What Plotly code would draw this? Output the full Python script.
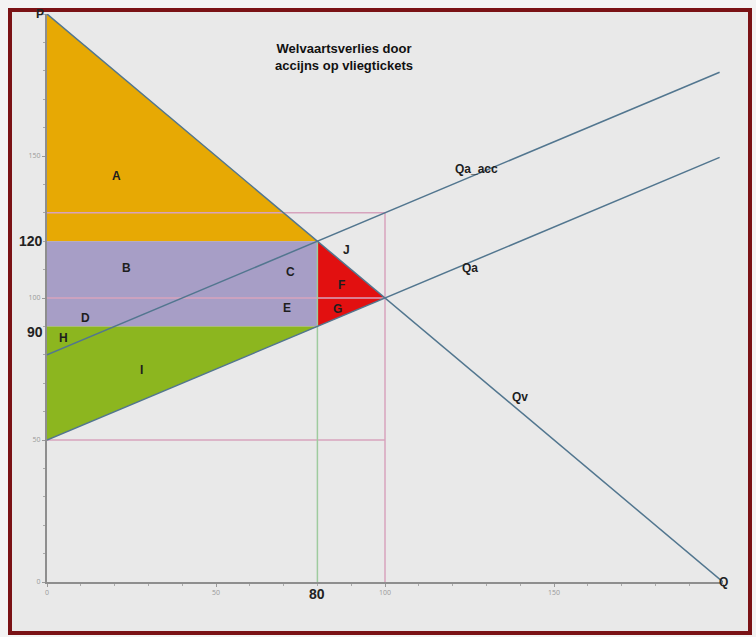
"""Welvaartsverlies door accijns op vliegtickets"""

import plotly.graph_objects as go

# curves (Q, P)
q_demand = [0, 200]
p_demand = [200, 0]
q_supply = [0, 199]
p_supply = [50, 149.5]
q_supply_acc = [0, 199]
p_supply_acc = [80, 179.5]

# shaded welfare areas
area_a_q = [0, 80, 0]
area_a_p = [200, 120, 120]
area_bcde_q = [0, 80, 80, 0]
area_bcde_p = [120, 120, 90, 90]
area_i_q = [0, 80, 0]
area_i_p = [50, 90, 90]
area_fgj_q = [80, 100, 80]
area_fgj_p = [120, 100, 90]

# guide lines
guide_pink = [([0, 100], [130, 130]), ([0, 100], [100, 100]), ([0, 100], [50, 50]), ([100, 100], [0, 130])]
guide_green = ([80, 80], [0, 120])

area_labels = ["A", "B", "C", "D", "E", "F", "G", "H", "I", "J"]
area_label_q = [20.5, 23.5, 72, 11.5, 71, 87, 86, 4.8, 28, 88.5]
area_label_p = [143, 110.5, 109, 93, 96.5, 104.5, 96, 86, 74.5, 117]

curve_labels = ["Qa_acc", "Qa", "Qv"]
curve_label_q = [127, 125, 140]
curve_label_p = [145.5, 110.5, 65]

x_ticks = [0, 50, 100, 150]
y_ticks = [0, 50, 100, 150]

# pixel geometry of the plot area
W, H = 756, 637
X0, X1 = 47, 723
Y0, Y1 = 582, 14

LINE = "#52768f"
PINK = "#d7a3bd"
FONT = "Liberation Sans"

fig = go.Figure()


def area(q, p, color):
    fig.add_trace(go.Scatter(x=q, y=p, fill="toself", fillcolor=color, mode="lines",
                             line=dict(width=0), hoverinfo="skip"))


area(area_a_q, area_a_p, "#e7a904")
area(area_bcde_q, area_bcde_p, "#a79ec6")
area(area_i_q, area_i_p, "#8cb61f")
area(area_fgj_q, area_fgj_p, "#e21010")

for gq, gp in guide_pink:
    fig.add_trace(go.Scatter(x=gq, y=gp, mode="lines", line=dict(color=PINK, width=1.5), hoverinfo="skip"))
fig.add_trace(go.Scatter(x=guide_green[0], y=guide_green[1], mode="lines",
                         line=dict(color="#9fcb9f", width=1.5), hoverinfo="skip"))

for q, p in [(q_demand, p_demand), (q_supply, p_supply), (q_supply_acc, p_supply_acc)]:
    fig.add_trace(go.Scatter(x=q, y=p, mode="lines", line=dict(color=LINE, width=1.5), hoverinfo="skip"))

for t, q, p in zip(area_labels + curve_labels, area_label_q + curve_label_q, area_label_p + curve_label_p):
    fig.add_annotation(x=q, y=p, text=f"<b>{t}</b>", showarrow=False,
                       font=dict(family=FONT, size=12, color="#1e1e1e"))

big = dict(family=FONT, size=14, color="#222222")
fig.add_annotation(x=0, y=120, text="<b>120</b>", showarrow=False, xanchor="right", xshift=-2, font=big)
fig.add_annotation(x=0, y=88, text="<b>90</b>", showarrow=False, xanchor="right", xshift=-2, font=big)
fig.add_annotation(x=80, y=0, text="<b>80</b>", showarrow=False, yanchor="top", yshift=-2, font=big)
fig.add_annotation(x=0, y=200, text="<b>P</b>", showarrow=False, xanchor="right", yanchor="middle",
                   xshift=-1, font=dict(family=FONT, size=12, color="#222"))
fig.add_annotation(x=200, y=0, text="<b>Q</b>", showarrow=False,
                   font=dict(family=FONT, size=12, color="#222"))

fig.add_annotation(x=88, y=185, text="<b>Welvaartsverlies door<br>accijns op vliegtickets</b>",
                   showarrow=False, font=dict(family=FONT, size=13, color="#111"))

# maroon frame around the picture
px = lambda v: (v - X0) / (X1 - X0)
py = lambda v: (Y0 - v) / (Y0 - Y1)
fig.add_shape(type="rect", xref="paper", yref="paper", x0=px(10), x1=px(750), y0=py(633), y1=py(10),
              line=dict(color="#7a1215", width=4), fillcolor="#e9e9e9", layer="below")

axis_common = dict(showgrid=False, zeroline=False, showline=True, linecolor="#8e8e8e", linewidth=2,
                   ticks="outside", ticklen=3, tickcolor="#999", tickfont=dict(size=7, color="#999999"),
                   automargin=False,
                   minor=dict(dtick=10, ticks="outside", ticklen=2, tickcolor="#aaa"))

fig.update_layout(
    width=W, height=H,
    margin=dict(l=X0, r=W - X1, t=Y1, b=H - Y0),
    paper_bgcolor="#f3f3f3",
    plot_bgcolor="rgba(0,0,0,0)",
    showlegend=False,
    xaxis=dict(range=[0, 200], tickvals=x_ticks, **axis_common),
    yaxis=dict(range=[0, 200], tickvals=y_ticks, **axis_common),
)

fig.write_html("out.html", config={"displayModeBar": False},
               post_script="document.body.style.margin='0';")
